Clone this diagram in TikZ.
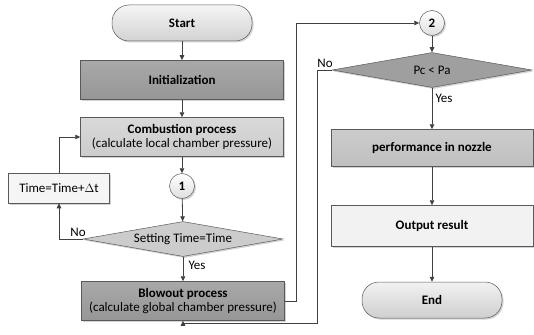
\documentclass[tikz,border=0pt]{standalone}
\usepackage{fontspec}
\setmainfont{Carlito}
\usetikzlibrary{shapes.geometric,arrows.meta,shadows}
\begin{document}
\begin{tikzpicture}[x=1pt,y=1pt,
  base/.style={draw=gray!70!black, line width=0.5pt, font=\fontsize{13}{14.5}\selectfont, align=center,
    drop shadow={shadow xshift=1.5pt,shadow yshift=-1.5pt,opacity=0.35}},
  pill/.style={base, rectangle, rounded corners=17pt, minimum width=140pt, minimum height=36pt,
    top color=gray!8, bottom color=gray!35},
  procbox/.style={base, rectangle, minimum width=203pt, minimum height=39pt, inner sep=1pt},
  conn/.style={base, circle, minimum size=25pt, inner sep=0pt, top color=white, bottom color=gray!25},
  decision/.style={base, diamond, aspect=5.9, minimum width=200pt, minimum height=35pt, inner sep=0pt},
  flow/.style={draw=black!75, line width=0.8pt, -{Triangle[width=4.5pt,length=5pt]}},
  lab/.style={font=\fontsize{13}{14.5}\selectfont, inner sep=0pt}
]
\useasboundingbox (0,0) rectangle (534,-334);

\node[pill] (start) at (182,-23) {\bfseries Start};
\node[procbox, top color=gray!68, bottom color=gray!82] (init) at (182,-80) {\bfseries Initialization};
\node[procbox, top color=gray!30, bottom color=gray!40] (comb) at (182,-137) {\bfseries Combustion process\\(calculate local chamber pressure)};
\node[conn] (c1) at (182,-186) {\bfseries 1};
\node[base, rectangle, minimum width=101pt, minimum height=30pt, fill=gray!8] (time) at (59,-188) {Time=Time+$\Delta$t};
\node[decision, fill=gray!40] (set) at (183,-239) {Setting Time=Time};
\node[procbox, top color=gray!68, bottom color=gray!82] (blow) at (183,-301) {\bfseries Blowout process\\(calculate global chamber pressure)};

\node[conn] (c2) at (432,-23) {\bfseries 2};
\node[decision, fill=gray!75] (pc) at (432,-70) {Pc < Pa};
\node[procbox, minimum width=202pt, minimum height=37pt, top color=gray!40, bottom color=gray!50] (perf) at (432,-148) {\bfseries performance in nozzle};
\node[procbox, minimum width=202pt, minimum height=41pt, fill=gray!10] (out) at (432,-226) {\bfseries Output result};
\node[pill, top color=gray!10, bottom color=gray!38] (end) at (432,-300) {\bfseries End};

\draw[flow] (start) -- (init);
\draw[flow] (init) -- (comb);
\draw[flow] (comb) -- (c1);
\draw[flow] (c1) -- (set);
\draw[flow] (set) -- (blow);
\draw[flow] (set.west) -| (time.south);
\draw[flow] (time.north) |- (comb.west);
\draw[flow] (blow.east) -- ++(12,0) |- (c2.west);
\draw[flow] (c2) -- (pc);
\draw[flow] (pc) -- (perf);
\draw[flow] (perf) -- (out);
\draw[flow] (out) -- (end);
\coordinate (r) at (317,-323);
\draw[flow] (pc.west) -| (r) -| (blow.south);

\node[lab] (no1) at (78,-232) {No};
\node[lab] (yes1) at (197,-265) {Yes};
\node[lab] (no2) at (325,-63) {No};
\node[lab] (yes2) at (444,-98) {Yes};
\end{tikzpicture}
\end{document}
